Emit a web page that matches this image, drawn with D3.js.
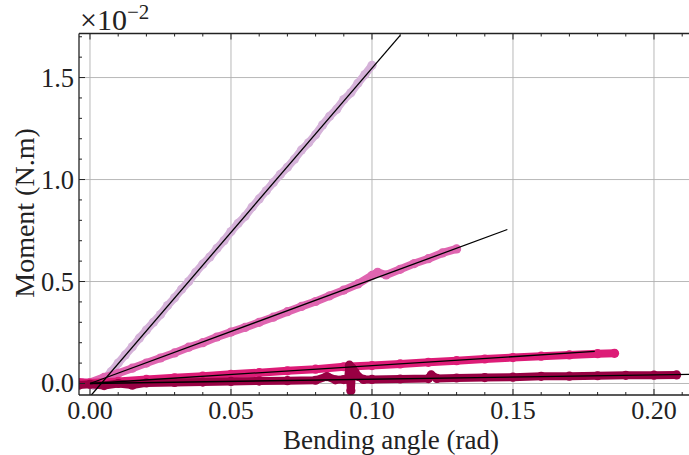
<!DOCTYPE html>
<html><head><meta charset="utf-8">
<script src="https://cdn.jsdelivr.net/npm/d3@7"></script>
<style>
html,body{margin:0;padding:0;background:#fff;}
svg text{font-family:"Liberation Serif","DejaVu Serif",serif;fill:#222;}
</style></head>
<body><svg id="c" width="689" height="455"></svg>
<script>
// ---- data ----
const xTicks = [0, 0.05, 0.10, 0.15, 0.20];
const xTickLabels = ["0.00", "0.05", "0.10", "0.15", "0.20"];
const yTicks = [0, 0.5, 1.0, 1.5];
const yTickLabels = ["0.0", "0.5", "1.0", "1.5"];

const s1x = [0.0015,0.0025,0.005,0.0075,0.010,0.0125,0.015,0.0175,0.020,0.0225,0.025,0.0275,0.030,0.0325,0.035,0.0375,0.040,0.0425,0.045,0.0475,0.050,0.0525,0.055,0.0575,0.060,0.0625,0.065,0.0675,0.070,0.0725,0.075,0.0775,0.080,0.0825,0.085,0.0875,0.090,0.0925,0.095,0.0975,0.100];
const s1y = [-0.010,0.000,0.020,0.058,0.100,0.140,0.180,0.222,0.262,0.300,0.338,0.382,0.420,0.462,0.500,0.545,0.585,0.620,0.662,0.700,0.745,0.785,0.820,0.865,0.905,0.945,0.985,1.025,1.060,1.100,1.145,1.180,1.220,1.268,1.310,1.345,1.392,1.425,1.472,1.515,1.560];

const s2x = [-0.003,0.000,0.005,0.010,0.015,0.020,0.025,0.030,0.035,0.040,0.045,0.050,0.055,0.060,0.065,0.070,0.075,0.080,0.085,0.090,0.095,0.100,0.102,0.105,0.110,0.115,0.120,0.125,0.130];
const s2y = [0.005,0.005,0.030,0.050,0.075,0.100,0.125,0.150,0.178,0.200,0.228,0.252,0.275,0.300,0.325,0.352,0.378,0.402,0.430,0.458,0.488,0.530,0.545,0.532,0.560,0.588,0.612,0.640,0.660];

const s3x = [-0.004,0.000,0.010,0.020,0.030,0.040,0.050,0.060,0.070,0.080,0.090,0.100,0.110,0.120,0.130,0.140,0.150,0.160,0.170,0.180,0.186];
const s3y = [0.005,0.002,0.010,0.020,0.028,0.036,0.045,0.053,0.062,0.070,0.082,0.088,0.096,0.104,0.112,0.120,0.127,0.134,0.140,0.146,0.148];

const s4x = [-0.004,0.000,0.005,0.010,0.015,0.020,0.030,0.040,0.050,0.060,0.070,0.080,0.084,0.087,0.090,0.0915,0.092,0.0925,0.093,0.094,0.095,0.097,0.100,0.110,0.120,0.121,0.123,0.130,0.140,0.150,0.160,0.170,0.180,0.190,0.200,0.208];
const s4y = [-0.008,-0.004,-0.010,0.000,-0.008,0.003,0.005,0.007,0.010,0.012,0.014,0.016,0.034,0.018,0.019,0.020,0.090,-0.035,0.075,0.055,0.035,0.020,0.020,0.022,0.024,0.042,0.025,0.027,0.029,0.031,0.035,0.036,0.038,0.040,0.041,0.042];

const fitX1 = [0.0, 0.110],  fitY1 = [-0.064, 1.707];
const fitX2 = [0.0, 0.148],  fitY2 = [0.000, 0.755];
const fitX3 = [0.0, 0.179],  fitY3 = [0.000, 0.157];
const fitX4 = [0.0, 0.230],  fitY4 = [0.000, 0.048];

const seriesColors = ["#d5b2d9", "#df65b0", "#dd1c77", "#980043"];

// ---- layout ----
const svg = d3.select("#c");
const L = 79, T = 33.5, B = 395, R = 710;
const x = d3.scaleLinear().domain([-0.0039, (R - 90) / 2820]).range([L, R]);
const y = d3.scaleLinear().domain([-0.0564, 1.716]).range([B, T]);

svg.append("defs").append("clipPath").attr("id", "clip")
  .append("rect").attr("x", L).attr("y", T).attr("width", R - L).attr("height", B - T);

// grid
const grid = svg.append("g");
grid.selectAll("line.gx").data(xTicks).join("line")
  .attr("x1", d => x(d)).attr("x2", d => x(d)).attr("y1", T).attr("y2", B)
  .attr("stroke", "#b0b0b0").attr("stroke-width", 0.9);
grid.selectAll("line.gy").data(yTicks).join("line")
  .attr("y1", d => y(d)).attr("y2", d => y(d)).attr("x1", L).attr("x2", R)
  .attr("stroke", "#b0b0b0").attr("stroke-width", 0.9);

// data
const plot = svg.append("g").attr("clip-path", "url(#clip)");
const sets = [[s1x, s1y], [s2x, s2y], [s3x, s3y], [s4x, s4y]];
const line = d3.line().x(d => x(d[0])).y(d => y(d[1]));
sets.forEach(([xs, ys], i) => {
  const pts = xs.map((v, k) => [v, ys[k]]);
  plot.append("path").datum(pts).attr("d", line)
    .attr("fill", "none").attr("stroke", seriesColors[i]).attr("stroke-width", 8)
    .attr("stroke-linecap", "round").attr("stroke-linejoin", "round");
  plot.append("g").selectAll("circle").data(pts).join("circle")
    .attr("cx", d => x(d[0])).attr("cy", d => y(d[1])).attr("r", 4.6)
    .attr("fill", seriesColors[i]);
});
const fits = [[fitX1, fitY1], [fitX2, fitY2], [fitX3, fitY3], [fitX4, fitY4]];
fits.forEach(([xs, ys]) => {
  plot.append("path").datum(xs.map((v, k) => [v, ys[k]])).attr("d", line)
    .attr("fill", "none").attr("stroke", "#000").attr("stroke-width", 1.3);
});

// axes (ticks inward)
const ax = svg.append("g");
const xMinor = d3.range(0, 0.2201, 0.01).filter(v => xTicks.every(t => Math.abs(t - v) > 1e-6));
const yMinor = d3.range(0, 1.701, 0.1).filter(v => yTicks.every(t => Math.abs(t - v) > 1e-6));
const tk = (x1, y1, x2, y2) => ax.append("line").attr("x1", x1).attr("y1", y1).attr("x2", x2).attr("y2", y2)
  .attr("stroke", "#222").attr("stroke-width", 1);
xTicks.forEach(v => { tk(x(v), B, x(v), B - 6); tk(x(v), T, x(v), T + 6); });
xMinor.forEach(v => { tk(x(v), B, x(v), B - 3); tk(x(v), T, x(v), T + 3); });
yTicks.forEach(v => { tk(L, y(v), L + 6, y(v)); });
yMinor.forEach(v => { tk(L, y(v), L + 3, y(v)); });
ax.append("line").attr("x1", L).attr("x2", L).attr("y1", T).attr("y2", B).attr("stroke", "#222").attr("stroke-width", 1.3);
ax.append("line").attr("x1", L).attr("x2", R).attr("y1", B).attr("y2", B).attr("stroke", "#222").attr("stroke-width", 1.3);
ax.append("line").attr("x1", L).attr("x2", R).attr("y1", T).attr("y2", T).attr("stroke", "#222").attr("stroke-width", 1.3);

svg.append("g").selectAll("text").data(xTicks).join("text")
  .attr("x", d => x(d)).attr("y", 419).attr("text-anchor", "middle")
  .attr("font-size", 26).text((d, i) => xTickLabels[i]);
svg.append("g").selectAll("text").data(yTicks).join("text")
  .attr("x", 74).attr("y", d => y(d) + 9).attr("text-anchor", "end")
  .attr("font-size", 26.5).text((d, i) => yTickLabels[i]);

svg.append("text").attr("x", 391).attr("y", 449).attr("text-anchor", "middle")
  .attr("font-size", 27).text("Bending angle (rad)");
svg.append("text").attr("transform", "translate(34,213) rotate(-90)").attr("text-anchor", "middle")
  .attr("font-size", 28).text("Moment (N.m)");
const ex = svg.append("text").attr("x", 80).attr("y", 30).attr("font-size", 30);
ex.append("tspan").text("×10");
ex.append("tspan").attr("font-size", 21).attr("dy", -11).text("−2");
</script></body></html>
